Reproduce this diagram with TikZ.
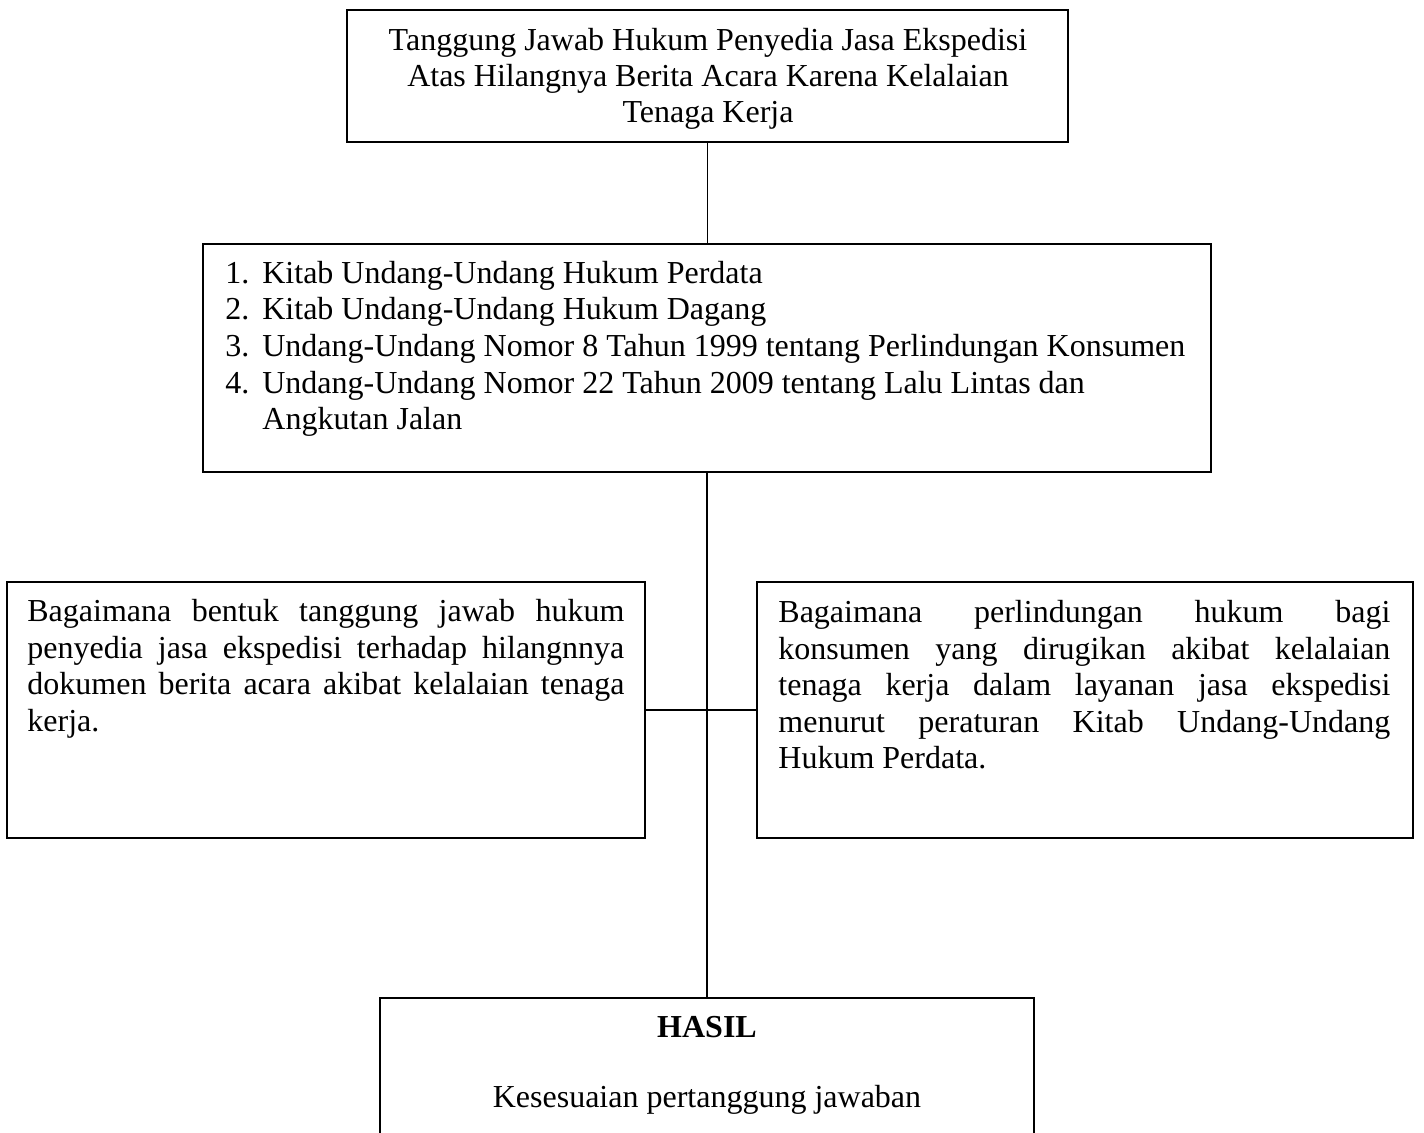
\documentclass[tikz,border=0pt]{standalone}
\usepackage{fontspec}
\setmainfont{Liberation Serif}
\newcommand\jl[2]{\makebox[#1][s]{#2}}
\newcommand\numitem[1]{\makebox[18.5pt][l]{#1}}
\begin{document}
\begin{tikzpicture}[x=0.5pt,y=-0.5pt,
  box/.style={draw, line width=0.75pt, inner sep=0pt},
  txt/.style={inner sep=0pt, font=\fontsize{16pt}{18.3pt}\selectfont},
  link/.style={line width=0.6pt}]
\clip (0,0) rectangle (1424,1133);
% boxes
\node[box, minimum width=360.5pt, minimum height=66pt] (top) at (707.5,76) {};
\node[box, minimum width=504pt, minimum height=114pt] (mid) at (707,358) {};
\node[box, minimum width=319pt, minimum height=128pt] (left) at (326,710) {};
\node[box, minimum width=328pt, minimum height=128pt] (right) at (1085,710) {};
\node[box, minimum width=327pt, minimum height=81pt] (bot) at (707,1079) {};
% texts
\node[txt, anchor=north, align=center, font=\fontsize{16pt}{18pt}\selectfont] (topT) at (708,26)
  {\rule{0pt}{12pt}Tanggung Jawab Hukum Penyedia Jasa Ekspedisi\\
   Atas Hilangnya Berita Acara Karena Kelalaian\\
   Tenaga Kerja};
\node[txt, anchor=north west, align=left] (midT) at (225,259)
  {\rule{0pt}{12pt}\numitem{1.}Kitab Undang-Undang Hukum Perdata\\
   \numitem{2.}Kitab Undang-Undang Hukum Dagang\\
   \numitem{3.}Undang-Undang Nomor 8 Tahun 1999 tentang Perlindungan Konsumen\\
   \numitem{4.}Undang-Undang Nomor 22 Tahun 2009 tentang Lalu Lintas dan\\
   \numitem{}Angkutan Jalan};
\node[txt, anchor=north west, align=left] (leftT) at (27,597)
  {\rule{0pt}{12pt}\jl{298.5pt}{Bagaimana bentuk tanggung jawab hukum}\\
   \jl{298.5pt}{penyedia jasa ekspedisi terhadap hilangnnya}\\
   \jl{298.5pt}{dokumen berita acara akibat kelalaian tenaga}\\
   kerja.};
\node[txt, anchor=north west, align=left] (rightT) at (778,598)
  {\rule{0pt}{12pt}\jl{306pt}{Bagaimana perlindungan hukum bagi}\\
   \jl{306pt}{konsumen yang dirugikan akibat kelalaian}\\
   \jl{306pt}{tenaga kerja dalam layanan jasa ekspedisi}\\
   \jl{306pt}{menurut peraturan Kitab Undang-Undang}\\
   Hukum Perdata.};
\node[txt, anchor=base] (hasil) at (707,1037) {\textbf{HASIL}};
\node[txt, anchor=base] (kes) at (707,1107) {Kesesuaian pertanggung jawaban};
% connectors
\draw[link] (top.south) -- (top.south |- mid.north);
\draw[link] (mid.south) -- (bot.north);
\draw[link] (left.east) -- (right.west);
\end{tikzpicture}
\end{document}
